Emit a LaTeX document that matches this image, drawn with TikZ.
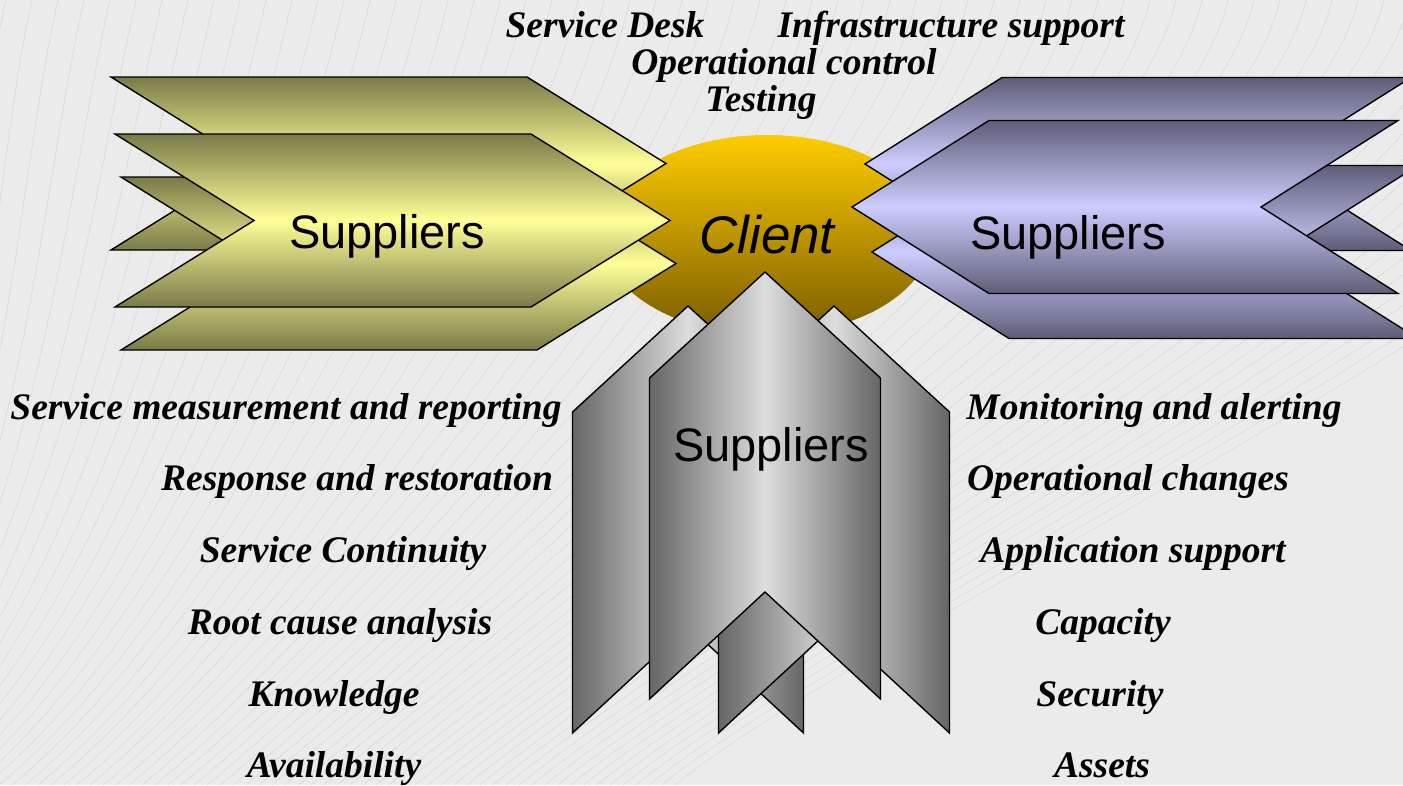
\documentclass[tikz,border=0pt]{standalone}
\usepackage{fontspec}
\setmainfont{Liberation Serif}
\setsansfont{Liberation Sans}
\newfontfamily\labelfont{Liberation Serif}
\usetikzlibrary{shapes.geometric}

\definecolor{bgcol}{HTML}{EBEBEB}
\definecolor{bgline}{HTML}{DBDBDB}
\definecolor{olive}{HTML}{7A7A48}
\definecolor{paleyellow}{HTML}{FFFF99}
\definecolor{slate}{HTML}{5E5E78}
\definecolor{lavender}{HTML}{CCCCFF}
\definecolor{steel}{HTML}{666666}
\definecolor{silver}{HTML}{DDDDDD}
\definecolor{goldtop}{HTML}{FFCC00}
\definecolor{goldbottom}{HTML}{7A5C00}

% chevron pointing right: start at top-left corner
\newcommand{\rightchev}[2]{%
  \shadedraw[yellowchev] (#1,#2) -- ++(416,0) -- ++(139,86.5) -- ++(-139,86.5)
    -- ++(-416,0) -- ++(139,-86.5) -- cycle;}
% chevron pointing left: start at the tip
\newcommand{\leftchev}[2]{%
  \shadedraw[purplechev] (#1,#2) -- ++(137,-86.5) -- ++(409,0) -- ++(-137,86.5)
    -- ++(137,86.5) -- ++(-409,0) -- cycle;}
% chevron pointing up: start at the tip
\newcommand{\upchev}[2]{%
  \shadedraw[graychev] (#1,#2) -- ++(115.5,106) -- ++(0,321) -- ++(-115.5,-107)
    -- ++(-115.5,107) -- ++(0,-321) -- cycle;}

\begin{document}
\begin{tikzpicture}[x=1pt,y=-1pt,
  chevline/.style={draw=black,line width=1.4pt,line join=miter},
  yellowchev/.style={chevline,top color=olive,bottom color=olive,middle color=paleyellow},
  purplechev/.style={chevline,top color=slate,bottom color=slate,middle color=lavender},
  graychev/.style={chevline,left color=steel,right color=steel,middle color=silver},
  bigword/.style={font=\sffamily\fontsize{47}{50}\selectfont,anchor=base,inner sep=0},
  lbl/.style={font=\labelfont\bfseries\itshape\fontsize{37.5}{40}\selectfont,anchor=base,inner sep=0}]

% canvas
\fill[bgcol] (0,0) rectangle (1403,785);
\useasboundingbox (0,0) rectangle (1403,785);

% fine fan of background lines
\begin{scope}
\clip (0,0) rectangle (1403,785);
\foreach \i in {0,...,75}{
  \pgfmathsetmacro{\b}{-300+13*\i}
  \pgfmathsetmacro{\t}{-150+26*\i}
  \draw[bgline,line width=0.7pt] (\b,785) .. controls (\b+200,620) and (\t-50,220) .. (\t,0);
}
\end{scope}

% centre
\node[ellipse,top color=goldtop,bottom color=goldbottom,minimum width=330pt,
      minimum height=200pt,inner sep=0,
      font=\sffamily\itshape\fontsize{53}{56}\selectfont] (client) at (767,235) {Client};

% left group
\rightchev{111}{77}
\rightchev{121}{177}
\rightchev{115}{134}
\node[bigword] (supL) at (387,248) {Suppliers};

% right group
\leftchev{865}{164}
\leftchev{872}{252}
\leftchev{852}{207}
\node[bigword] (supR) at (1068,249) {Suppliers};

% bottom group
\upchev{688}{306}
\upchev{834}{306}
\upchev{765}{272}
\node[bigword] (supB) at (771,461) {Suppliers};

% top labels
\node[lbl] (desk) at (605,37) {Service Desk};
\node[lbl] (infra) at (951,37) {Infrastructure support};
\node[lbl] (opctl) at (784,74) {Operational control};
\node[lbl] (test) at (761,111) {Testing};

% left labels
\node[lbl] (smr) at (286,419) {Service measurement and reporting};
\node[lbl] (resp) at (357,490) {Response and restoration};
\node[lbl] (cont) at (343,562) {Service Continuity};
\node[lbl] (rca) at (340,634) {Root cause analysis};
\node[lbl] (know) at (334,706) {Knowledge};
\node[lbl] (avail) at (334,777) {Availability};

% right labels
\node[lbl] (mon) at (1154,419) {Monitoring and alerting};
\node[lbl] (opch) at (1128,490) {Operational changes};
\node[lbl] (app) at (1133,562) {Application support};
\node[lbl] (cap) at (1103,634) {Capacity};
\node[lbl] (sec) at (1100,706) {Security};
\node[lbl] (assets) at (1102,777) {Assets};
\end{tikzpicture}
\end{document}
